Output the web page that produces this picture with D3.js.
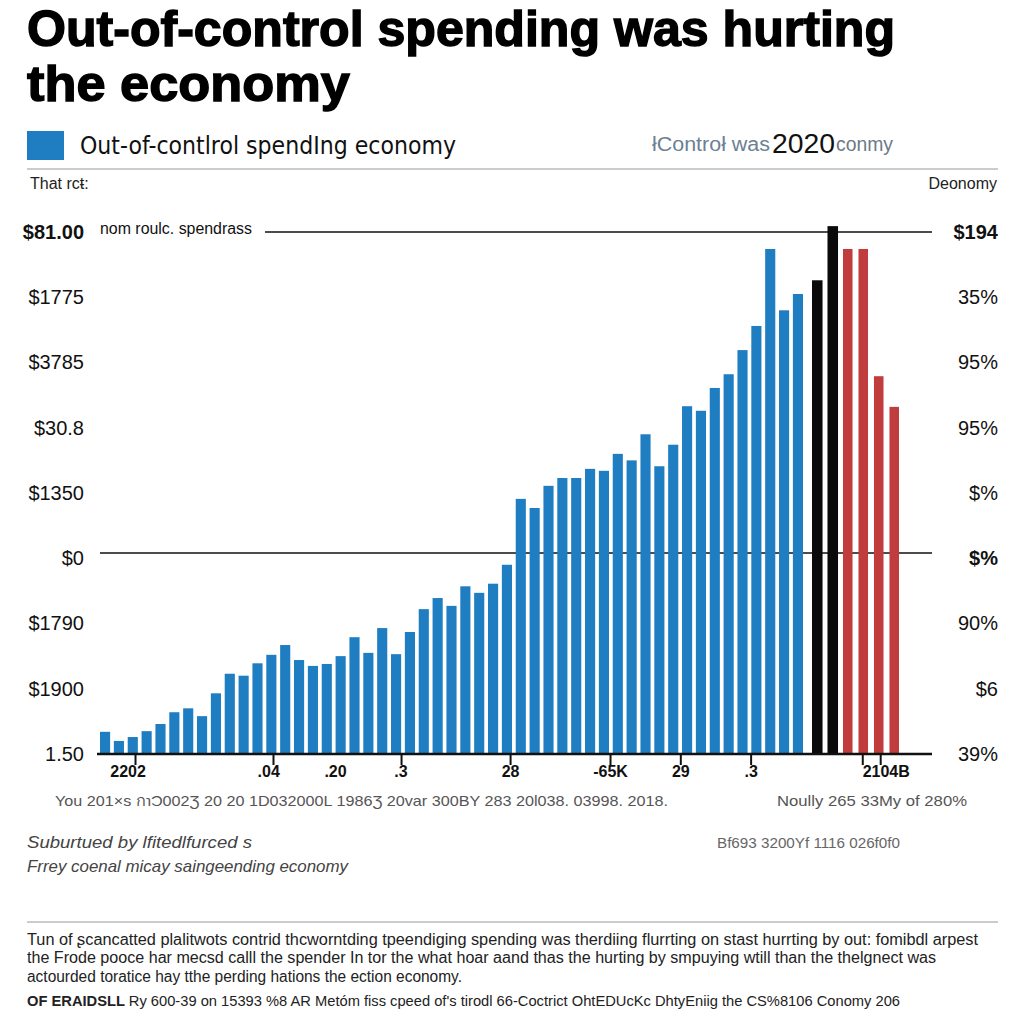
<!DOCTYPE html>
<html>
<head>
<meta charset="utf-8">
<script src="https://cdn.jsdelivr.net/npm/d3@7"></script>
<style>
  body { margin: 0; background: #fff; }
  svg { display: block; }
</style>
</head>
<body>
<script>
// bar heights, in gridline steps (0 = baseline, 8 = top rule)
var blueValues = [0.34, 0.20, 0.26, 0.35, 0.46, 0.64, 0.70, 0.58, 0.93, 1.23,
  1.20, 1.39, 1.52, 1.67, 1.44, 1.35, 1.38, 1.50, 1.79, 1.55,
  1.93, 1.53, 1.87, 2.22, 2.39, 2.27, 2.57, 2.47, 2.61, 2.90,
  3.91, 3.77, 4.11, 4.23, 4.23, 4.37, 4.34, 4.60, 4.50, 4.90,
  4.41, 4.74, 5.33, 5.26, 5.61, 5.82, 6.19, 6.56, 7.74, 6.80, 7.05];
var blackValues = [7.26, 8.09];
var redValues = [7.74, 7.74, 5.79, 5.32];

var leftLabels = ["1.50", "$1900", "$1790", "$0", "$1350", "$30.8", "$3785", "$1775", "$81.00"];
var rightLabels = ["39%", "$6", "90%", "$%", "$%", "95%", "95%", "35%", "$194"];
var ruleValues = [3.08, 8];

// x ticks are placed in "bar slot" units of the blue series
var tickMarkValues = [2.54, 12.55, 21.84, 29.75, 37.0, 42.1, 47.2, 55.3, 56.6];
var tickLabelValues = [2.0, 12.2, 17.05, 21.8, 29.75, 37.0, 42.1, 47.2, 57.0];
var tickLabels = ["2202", ".04", ".20", ".3", "28", "-65K", "29", ".3", "2104B"];

var blue = "#1f7dc1", red = "#c13c3d";

var svg = d3.select("body").append("svg")
    .attr("width", 1024)
    .attr("height", 1024);

function addText(x, y, str, o) {
    o = o || {};
    var t = svg.append("text")
        .attr("x", x)
        .attr("y", y)
        .attr("font-family", o.family || "'Liberation Sans', Arial, sans-serif")
        .attr("font-size", o.size || 16)
        .attr("font-weight", o.weight || "normal")
        .attr("font-style", o.style || "normal")
        .attr("fill", o.color || "#222")
        .attr("text-anchor", o.anchor || "start")
        .text(str);
    if (o.len) t.attr("textLength", o.len).attr("lengthAdjust", "spacingAndGlyphs");
    return t;
}

// title
addText(27, 46, "Out-of-control spending was hurting", {size: 50, weight: "bold", color: "#000", len: 868})
    .attr("stroke", "#000").attr("stroke-width", 1.4);
addText(27, 101, "the economy", {size: 50, weight: "bold", color: "#000", len: 323})
    .attr("stroke", "#000").attr("stroke-width", 1.4);

// legend row
svg.append("rect").attr("x", 27).attr("y", 131).attr("width", 37).attr("height", 29).attr("fill", blue);
addText(80, 154, "Out-of-contlrol spendIng economy", {size: 25, family: "'DejaVu Sans', sans-serif", color: "#111", len: 376});
addText(652, 151, "\u0142Contro\u0142 was", {size: 20, color: "#6c8094", len: 118});
addText(772, 153, "2020", {size: 28, color: "#111", len: 63});
addText(836, 151, "conmy", {size: 20, color: "#6c7a88", len: 57});
svg.append("line").attr("x1", 27).attr("x2", 998).attr("y1", 169).attr("y2", 169)
    .attr("stroke", "#bbb").attr("stroke-width", 1.5);

addText(30, 189, "That rc\u0167:", {size: 16, color: "#222"});
addText(997, 189, "Deonomy", {size: 16, color: "#222", anchor: "end"});
addText(100, 234, "nom roulc. spendrass", {size: 16, color: "#111", len: 152});

// scales
var y = d3.scaleLinear().domain([0, 8]).range([754, 232]);
var xSlot = d3.scaleLinear().domain([0, blueValues.length]).range([100, 803]);
var xBlue = d3.scaleBand().domain(d3.range(blueValues.length)).range([100, 803])
    .paddingInner(0.27).paddingOuter(0);
var xRecent = d3.scaleBand().domain(d3.range(blackValues.length + redValues.length))
    .range([812, 900]).paddingInner(0.32).paddingOuter(0);

// horizontal rules
svg.selectAll(".rule").data(ruleValues).enter().append("line")
    .attr("class", "rule")
    .attr("x1", function(d, i) { return i == 1 ? 265 : 100; })
    .attr("x2", 932)
    .attr("y1", function(d) { return y(d); })
    .attr("y2", function(d) { return y(d); })
    .attr("stroke", "#111")
    .attr("stroke-width", 1.6);

// bars
svg.selectAll(".blue").data(blueValues).enter().append("rect")
    .attr("class", "blue")
    .attr("x", function(d, i) { return xBlue(i); })
    .attr("width", xBlue.bandwidth())
    .attr("y", function(d) { return y(d); })
    .attr("height", function(d) { return y(0) - y(d); })
    .attr("fill", blue);

svg.selectAll(".black").data(blackValues).enter().append("rect")
    .attr("class", "black")
    .attr("x", function(d, i) { return xRecent(i); })
    .attr("width", xRecent.bandwidth())
    .attr("y", function(d) { return y(d); })
    .attr("height", function(d) { return y(0) - y(d); })
    .attr("fill", "#0a0a0a");

svg.selectAll(".red").data(redValues).enter().append("rect")
    .attr("class", "red")
    .attr("x", function(d, i) { return xRecent(i + blackValues.length); })
    .attr("width", xRecent.bandwidth() - 1)
    .attr("y", function(d) { return y(d); })
    .attr("height", function(d) { return y(0) - y(d); })
    .attr("fill", red);

// left and right value axes (labels only)
var ySteps = d3.range(leftLabels.length);
var leftAxis = svg.append("g").attr("transform", "translate(84,0)")
    .call(d3.axisLeft(y).tickValues(ySteps).tickSize(0).tickPadding(0)
        .tickFormat(function(d) { return leftLabels[d]; }));
leftAxis.select(".domain").remove();
leftAxis.selectAll("text")
    .attr("font-family", "'Liberation Sans', Arial, sans-serif")
    .attr("font-size", 20)
    .attr("fill", "#111")
    .attr("font-weight", function(d) { return d == 8 ? "bold" : "normal"; });

var rightAxis = svg.append("g").attr("transform", "translate(998,0)")
    .call(d3.axisLeft(y).tickValues(ySteps).tickSize(0).tickPadding(0)
        .tickFormat(function(d) { return rightLabels[d]; }));
rightAxis.select(".domain").remove();
rightAxis.selectAll("text")
    .attr("font-family", "'Liberation Sans', Arial, sans-serif")
    .attr("font-size", 20)
    .attr("fill", "#111")
    .attr("font-weight", function(d) { return d == 8 || d == 3 ? "bold" : "normal"; });

// baseline + x axis
svg.append("line").attr("x1", 97).attr("x2", 932).attr("y1", y(0)).attr("y2", y(0))
    .attr("stroke", "#111").attr("stroke-width", 2.5);

var tickAxis = svg.append("g").attr("transform", "translate(0," + y(0) + ")")
    .call(d3.axisBottom(xSlot).tickValues(tickMarkValues).tickSize(11).tickFormat(""));
tickAxis.select(".domain").remove();
tickAxis.selectAll("line").attr("stroke", "#111").attr("stroke-width", 2);

var labelAxis = svg.append("g").attr("transform", "translate(0," + y(0) + ")")
    .call(d3.axisBottom(xSlot).tickValues(tickLabelValues).tickSize(0).tickPadding(12)
        .tickFormat(function(d, i) { return tickLabels[i]; }));
labelAxis.select(".domain").remove();
labelAxis.selectAll("text")
    .attr("font-family", "'Liberation Sans', Arial, sans-serif")
    .attr("font-size", 16)
    .attr("font-weight", "bold")
    .attr("fill", "#111");

// notes under the axis
addText(55, 806, "You 201\u00d7s  \u0e01\u2129\u0186002\u01b7 20 20 1D032000L 1986\u01b7 20var 300BY 283  20l038. 03998. 2018.", {size: 15, color: "#555", len: 613});
addText(777, 806, "Noully 265 33My of 280%", {size: 15, color: "#555", len: 190});
addText(27, 848, "Suburtued by  lfitedlfurced s", {size: 17, style: "italic", color: "#444", len: 225});
addText(27, 872, "Frrey coenal  micay saingeending economy", {size: 17, style: "italic", color: "#444", len: 321});
addText(717, 848, "Bf693 3200Yf 1116 026f0f0", {size: 15, color: "#666", len: 183});

svg.append("line").attr("x1", 27).attr("x2", 998).attr("y1", 922).attr("y2", 922)
    .attr("stroke", "#bbb").attr("stroke-width", 1.5);

addText(27, 945, "Tun of \u0282cancatted plalitwots contrid thcworntding tpeendiging spending  was therdiing  flurrting  on stast  hurrting by out: fomibdl arpest", {size: 16, color: "#222", len: 951});
addText(27, 963, "the Frode  pooce har  mecsd  calll the  spender In tor the  what  hoar aand thas the hurting by smpuying wtill than the thelgnect  was", {size: 16, color: "#222", len: 909});
addText(27, 982, "actourded toratice hay tthe  perding hations  the ection  economy.", {size: 16, color: "#222", len: 435});

var foot = addText(27, 1006, "", {size: 15, color: "#222", len: 873});
foot.append("tspan").attr("font-weight", "bold").text("OF ERAIDSLL ");
foot.append("tspan").text("Ry 600-39 on 15393 %8 AR Met\u00f3m fiss cpeed of's tirodl 66-Coctrict OhtEDUcKc  DhtyEniig the CS%8106 Conomy 206");
</script>
</body>
</html>
